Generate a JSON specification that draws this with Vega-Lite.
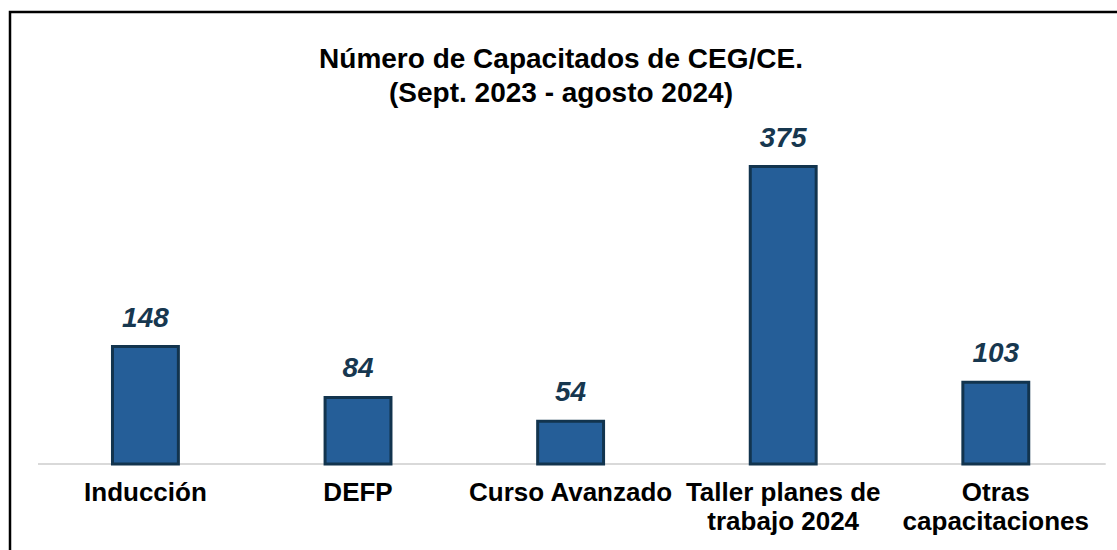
{
  "$schema": "https://vega.github.io/schema/vega-lite/v6.json",
  "autosize": {"type": "none"},
  "width": 1110,
  "height": 545,
  "padding": {"left": 10, "top": 12, "right": 0, "bottom": 0},
  "background": "white",
  "config": {
    "view": {"stroke": "#000000", "strokeWidth": 2.5},
    "font": "Liberation Sans",
    "axisX": {
      "title": null,
      "orient": "bottom",
      "offset": -93,
      "bandPosition": 0.5,
      "domain": false,
      "ticks": false,
      "grid": false,
      "labelAngle": 0,
      "labelAlign": "center",
      "labelFont": "Liberation Sans",
      "labelFontSize": 26,
      "labelFontWeight": "bold",
      "labelColor": "#000000",
      "labelPadding": 15,
      "labelLineHeight": 29,
      "labelLimit": 400
    }
  },
  "title": {
    "text": ["Número de Capacitados de CEG/CE.", "(Sept. 2023 - agosto 2024)"],
    "font": "Liberation Sans",
    "fontSize": 28,
    "fontWeight": "bold",
    "color": "#000000",
    "anchor": "middle",
    "frame": "group",
    "baseline": "top",
    "offset": -96,
    "lineHeight": 34,
    "dx": -4
  },
  "data": {
    "values": [
      {"cat": "Inducción", "n": 148},
      {"cat": "DEFP", "n": 84},
      {"cat": "Curso Avanzado", "n": 54},
      {"cat": "Taller planes de|trabajo 2024", "n": 375},
      {"cat": "Otras|capacitaciones", "n": 103}
    ]
  },
  "layer": [
    {
      "mark": {"type": "rule", "color": "#d9d9d9", "strokeWidth": 2},
      "encoding": {
        "x": {
          "datum": "Inducción",
          "type": "nominal",
          "bandPosition": -1.13,
          "scale": {
            "domain": ["Inducción", "DEFP", "Curso Avanzado", "Taller planes de|trabajo 2024", "Otras|capacitaciones"],
            "paddingInner": 0.69, "paddingOuter": 0.4556, "align": 0.529
          },
          "axis": {"title": null, "domain": false, "labelExpr": "split(datum.value, '|')"}
        },
        "x2": {"datum": "Otras|capacitaciones", "bandPosition": 2.16},
        "y": {"datum": 0, "type": "quantitative", "scale": {"domain": [-117.2, 569.8], "nice": false, "zero": false}, "axis": null}
      }
    },
    {
      "mark": {"type": "bar", "fill": "#255e98", "stroke": "#12344e", "strokeWidth": 3},
      "encoding": {
        "x": {
          "field": "cat",
          "type": "nominal",
          "sort": null,
          "axis": {"title": null, "domain": false, "bandPosition": 0.5, "labelExpr": "split(datum.value, '|')"}
        },
        "y": {"field": "n", "type": "quantitative"},
        "y2": {"datum": 0}
      }
    },
    {
      "mark": {"type": "text", "font": "Liberation Sans", "fontSize": 28, "fontWeight": "bold", "fontStyle": "italic", "color": "#17374f", "baseline": "alphabetic", "dy": -20},
      "encoding": {
        "x": {"field": "cat", "type": "nominal", "sort": null},
        "y": {"field": "n", "type": "quantitative"},
        "text": {"field": "n", "type": "quantitative"}
      }
    }
  ]
}
